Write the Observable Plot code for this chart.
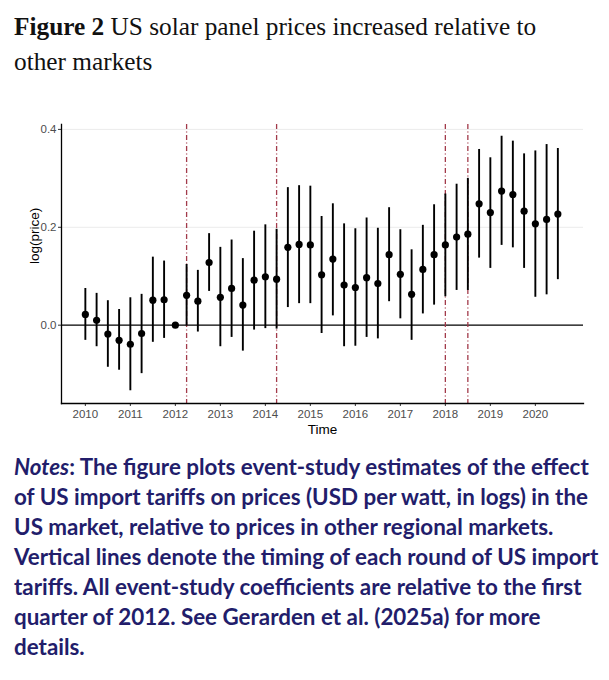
<!DOCTYPE html>
<html>
<head>
<meta charset="utf-8">
<script src="https://cdn.jsdelivr.net/npm/d3@7"></script>
<script src="https://cdn.jsdelivr.net/npm/@observablehq/plot@0.6"></script>
<style>
  html, body { margin: 0; padding: 0; background: #fff; }
  body { width: 609px; height: 680px; overflow: hidden; position: relative; }
  #title { position: absolute; left: 14px; top: 9px; width: 595px; font-family: "Liberation Serif", serif; font-size: 25.3px; line-height: 35px; color: #111; white-space: nowrap; }
  #title b { font-weight: bold; }
  #chart { position: absolute; left: 0; top: 110px; }
  #notes { position: absolute; left: 14px; top: 452.3px; width: 595px; font-family: "Lato", sans-serif; font-weight: bold; font-size: 22.4px; line-height: 30px; color: #221d6b; white-space: nowrap; }
  #notes i { font-style: italic; }
</style>
</head>
<body>
<div id="title"><b>Figure 2</b> US solar panel prices increased relative to<br>other markets</div>
<div id="chart"></div>
<div id="notes"><i>Notes</i>: The figure plots event-study estimates of the effect<br>of US import tariffs on prices (USD per watt, in logs) in the<br>US market, relative to prices in other regional markets.<br>Vertical lines denote the timing of each round of US import<br>tariffs. All event-study coefficients are relative to the first<br>quarter of 2012. See Gerarden et al. (2025a) for more<br>details.</div>
<script>
// Quarterly event-study estimates, 2010Q1 .. 2020Q3
const quarters = [
  2010.00, 2010.25, 2010.50, 2010.75,
  2011.00, 2011.25, 2011.50, 2011.75,
  2012.00, 2012.25, 2012.50, 2012.75,
  2013.00, 2013.25, 2013.50, 2013.75,
  2014.00, 2014.25, 2014.50, 2014.75,
  2015.00, 2015.25, 2015.50, 2015.75,
  2016.00, 2016.25, 2016.50, 2016.75,
  2017.00, 2017.25, 2017.50, 2017.75,
  2018.00, 2018.25, 2018.50, 2018.75,
  2019.00, 2019.25, 2019.50, 2019.75,
  2020.00, 2020.25, 2020.50
];
const estimate = [
  0.022, 0.010, -0.018, -0.031,
  -0.039, -0.017, 0.051, 0.052,
  0.000, 0.061, 0.049, 0.128,
  0.057, 0.075, 0.041, 0.092,
  0.099, 0.094, 0.159, 0.165,
  0.164, 0.103, 0.135, 0.082,
  0.077, 0.097, 0.085, 0.144,
  0.104, 0.063, 0.114, 0.144,
  0.164, 0.180, 0.186, 0.248,
  0.230, 0.274, 0.267, 0.233,
  0.207, 0.216, 0.227
];
const lower = [
  -0.031, -0.044, -0.086, -0.092,
  -0.134, -0.099, -0.035, -0.027,
  0.000, -0.002, -0.014, 0.069,
  -0.044, -0.025, -0.053, -0.010,
  -0.007, -0.008, 0.036, 0.044,
  0.044, -0.017, 0.019, -0.044,
  -0.043, -0.025, -0.028, 0.048,
  0.013, -0.031, 0.023, 0.041,
  0.058, 0.071, 0.071, 0.137,
  0.116, 0.163, 0.158, 0.116,
  0.057, 0.062, 0.093
];
const upper = [
  0.075, 0.065, 0.050, 0.032,
  0.056, 0.063, 0.139, 0.131,
  0.000, 0.124, 0.112, 0.187,
  0.159, 0.174, 0.136, 0.192,
  0.205, 0.196, 0.281, 0.285,
  0.284, 0.222, 0.248, 0.207,
  0.197, 0.219, 0.198, 0.240,
  0.195, 0.154, 0.204, 0.246,
  0.268, 0.288, 0.300, 0.359,
  0.342, 0.386, 0.376, 0.350,
  0.356, 0.369, 0.361
];
const tariffDates = [2012.25, 2014.25, 2018.0, 2018.5];
const xTicks = [2010, 2011, 2012, 2013, 2014, 2015, 2016, 2017, 2018, 2019, 2020];
const yTicks = [0.0, 0.2, 0.4];

const data = quarters.map((q, i) => ({q, est: estimate[i], lo: lower[i], hi: upper[i]}));

const chart = Plot.plot({
  width: 609,
  height: 335,
  marginLeft: 61,
  marginRight: 26,
  marginTop: 14,
  marginBottom: 42,
  style: { fontFamily: "Liberation Sans, Arial, sans-serif", background: "#fff", overflow: "visible" },
  x: { domain: [2009.47, 2021.07], ticks: xTicks, tickFormat: d3.format("d"), label: null },
  y: { domain: [-0.16, 0.41], ticks: yTicks, tickFormat: d3.format(".1f"), label: null },
  marks: [
    Plot.gridY(yTicks.filter(d => d !== 0), { stroke: "#ebebeb", strokeOpacity: 1, strokeWidth: 1 }),
    Plot.ruleY([0], { stroke: "#000", strokeWidth: 1.3 }),
    Plot.ruleX(tariffDates, { stroke: "#a23a4a", strokeWidth: 1.3, strokeDasharray: "5,2.5,1,2.5" }),
    Plot.ruleX(data, { x: "q", y1: "lo", y2: "hi", stroke: "#000", strokeWidth: 1.9 }),
    Plot.dot(data, { x: "q", y: "est", r: 3.6, fill: "#000", stroke: "none" }),
    Plot.axisY(yTicks, { tickSize: 3, tickPadding: 2, fontSize: 11.5, color: "#4d4d4d", stroke: "#333", tickFormat: d3.format(".1f"), label: null }),
    Plot.axisX(xTicks, { tickSize: 3, tickPadding: 3, fontSize: 11.5, color: "#4d4d4d", stroke: "#333", tickFormat: d3.format("d"), label: null }),
    Plot.frame({ anchor: "left", stroke: "#000", strokeWidth: 1.3 }),
    Plot.frame({ anchor: "bottom", stroke: "#000", strokeWidth: 1.3 }),
    Plot.text(["Time"], { frameAnchor: "bottom", dy: 30, fontSize: 13.5, fill: "#000" }),
    Plot.text(["log(price)"], { frameAnchor: "left", dx: -27, rotate: -90, fontSize: 13.5, fill: "#000" })
  ]
});
document.getElementById("chart").appendChild(chart);
</script>
</body>
</html>
